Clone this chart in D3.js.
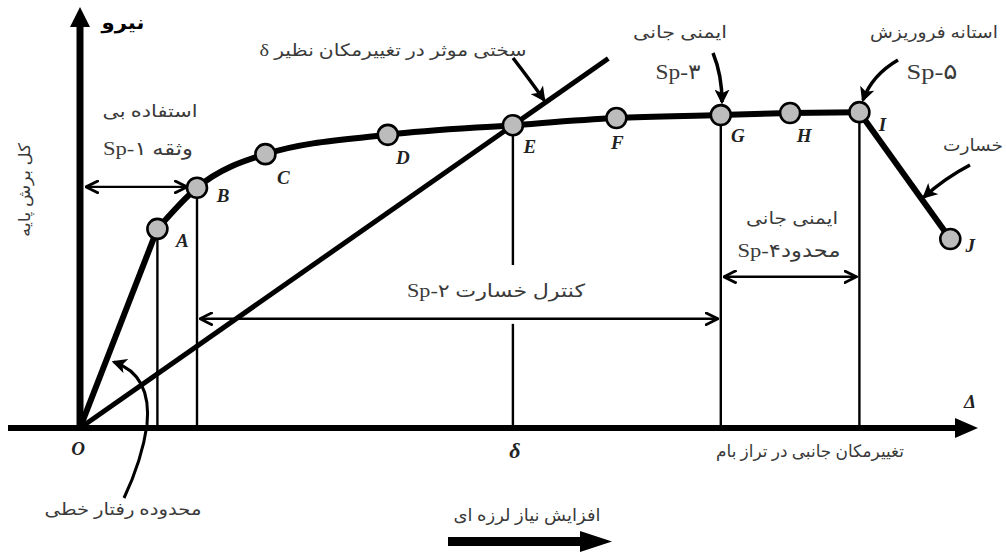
<!DOCTYPE html>
<html>
<head>
<meta charset="utf-8">
<script src="https://cdn.jsdelivr.net/npm/d3@7"></script>
<style>
  body { margin: 0; background: #fff; }
  .fa { font-family: "Liberation Serif", "DejaVu Sans", serif; fill: #3a3a3a; direction: rtl; }
  .lbl { font-family: "Liberation Serif", "DejaVu Serif", serif; font-style: italic; font-weight: bold; fill: #222; }
</style>
</head>
<body>
<svg width="1006" height="555"></svg>
<script>
// نقاط منحنی پوش آور (pushover) - تغییرمکان بام و برش پایه
const pointNames = ['O', 'A', 'B', 'C', 'D', 'E', 'F', 'G', 'H', 'I', 'J'];
const drift = [0, 8.6, 13, 20.6, 34.2, 48.1, 59.6, 71.2, 78.9, 86.6, 96.7];
const baseShear = [0, 47.4, 57.2, 65.2, 69.8, 72.1, 73.8, 74.5, 75, 75.2, 45];
const dropPoints = ['A', 'B', 'E', 'G', 'I'];   // خطوط قائم تا محور
const secantEnd = 58.7;                          // انتهای خط سختی موثر
// بازه های سطح عملکرد: از نقطه، تا نقطه، ارتفاع پیکان
const rangeFrom = ['O', 'B', 'G'];
const rangeTo = ['B', 'G', 'I'];
const rangeLevel = [57.4, 26, 36];

const svg = d3.select('svg');
const x = d3.scaleLinear().domain([0, 100]).range([80, 980]);
const y = d3.scaleLinear().domain([0, 100]).range([428, 8]);

const pts = pointNames.map((n, i) => ({ name: n, d: drift[i], v: baseShear[i] }));
const byName = Object.fromEntries(pts.map(p => [p.name, p]));

const defs = svg.append('defs');
defs.append('marker')
    .attr('id', 'open')
    .attr('viewBox', '0 -6 12 12')
    .attr('refX', 11).attr('refY', 0)
    .attr('markerUnits', 'userSpaceOnUse')
    .attr('markerWidth', 14).attr('markerHeight', 14)
    .attr('orient', 'auto-start-reverse')
  .append('path')
    .attr('d', 'M0,-5.5L11,0L0,5.5')
    .attr('fill', 'none').attr('stroke', '#000').attr('stroke-width', 2.4);
defs.append('marker')
    .attr('id', 'solid')
    .attr('viewBox', '0 -6 12 12')
    .attr('refX', 10).attr('refY', 0)
    .attr('markerUnits', 'userSpaceOnUse')
    .attr('markerWidth', 15).attr('markerHeight', 15)
    .attr('orient', 'auto')
  .append('path')
    .attr('d', 'M0,-6L12,0L0,6L3,0Z')
    .attr('fill', '#000');

// خطوط قائم نازک
const gapE = [24.8, 38.8];
dropPoints.forEach(n => {
  const p = byName[n];
  const segs = n === 'E' ? [[p.v, gapE[1]], [gapE[0], 0]] : [[p.v, 0]];
  segs.forEach(s => {
    svg.append('line')
        .attr('x1', x(p.d)).attr('x2', x(p.d))
        .attr('y1', y(s[0])).attr('y2', y(s[1]))
        .attr('stroke', '#000').attr('stroke-width', 2.4);
  });
});

// پیکانهای دوطرفه
rangeFrom.forEach((f, i) => {
  const x0 = x(byName[f].d) + (i === 0 ? 6 : 3);
  const x1 = x(byName[rangeTo[i]].d) - (i === 0 ? 10 : 3);
  svg.append('line')
      .attr('x1', x0).attr('x2', x1)
      .attr('y1', y(rangeLevel[i])).attr('y2', y(rangeLevel[i]))
      .attr('stroke', '#000').attr('stroke-width', 2.4)
      .attr('marker-start', 'url(#open)')
      .attr('marker-end', 'url(#open)');
});

// خط سختی موثر
const E = byName['E'];
svg.append('line')
    .attr('x1', x(0)).attr('y1', y(0))
    .attr('x2', x(secantEnd)).attr('y2', y(E.v / E.d * secantEnd))
    .attr('stroke', '#000').attr('stroke-width', 5);

// محورها
svg.append('line')
    .attr('x1', 8).attr('x2', 960).attr('y1', y(0)).attr('y2', y(0))
    .attr('stroke', '#000').attr('stroke-width', 6);
svg.append('path')
    .attr('d', `M978,${y(0)}L955,${y(0) - 10}L955,${y(0) + 10}Z`).attr('fill', '#000');
svg.append('line')
    .attr('x1', x(0)).attr('x2', x(0)).attr('y1', y(0) + 3).attr('y2', 22)
    .attr('stroke', '#000').attr('stroke-width', 7);
svg.append('path')
    .attr('d', `M${x(0)},7L${x(0) - 10},27L${x(0) + 10},27Z`).attr('fill', '#000');

// منحنی: O تا A خطی، A تا I نرم، I تا J خطی
const line = d3.line().x(p => x(p.d)).y(p => y(p.v));
svg.append('path')
    .attr('d', line(pts.slice(0, 2)))
    .attr('fill', 'none').attr('stroke', '#000').attr('stroke-width', 6);
svg.append('path')
    .attr('d', d3.line().x(p => x(p.d)).y(p => y(p.v)).curve(d3.curveMonotoneX)(pts.slice(1, 10)))
    .attr('fill', 'none').attr('stroke', '#000').attr('stroke-width', 6);
svg.append('path')
    .attr('d', line(pts.slice(9)))
    .attr('fill', 'none').attr('stroke', '#000').attr('stroke-width', 6);

svg.selectAll('circle.node')
  .data(pts.slice(1))
  .join('circle')
    .attr('class', 'node')
    .attr('cx', p => x(p.d)).attr('cy', p => y(p.v))
    .attr('r', 10)
    .attr('fill', '#bcbcbc').attr('stroke', '#000').attr('stroke-width', 2.6);

// برچسب نقاط
const labelOffset = {
  O: [-2, 20], A: [25, 11], B: [26, 8], C: [18, 23], D: [15, 23], E: [17, 21],
  F: [1, 24], G: [17, 20], H: [14, 22], I: [23, 12], J: [20, 6]
};
svg.selectAll('text.lbl')
  .data(pts)
  .join('text')
    .attr('class', 'lbl')
    .attr('x', p => x(p.d) + labelOffset[p.name][0])
    .attr('y', p => y(p.v) + labelOffset[p.name][1])
    .attr('dy', '0.35em')
    .attr('text-anchor', 'middle')
    .attr('font-size', 19)
    .text(p => p.name);

svg.append('text').attr('class', 'lbl').attr('x', 515).attr('y', 458)
    .attr('text-anchor', 'middle').attr('font-size', 22).text('δ');
svg.append('text').attr('class', 'lbl').attr('x', 970).attr('y', 408)
    .attr('text-anchor', 'middle').attr('font-size', 19).text('Δ');

// پیکانهای توضیحی
const callouts = [
  'M513,58 Q530,80 544,100',
  'M713,53 Q722,75 722,102',
  'M898,60 Q872,75 863,100',
  'M970,165 Q945,178 924,197'
];
callouts.forEach(d => {
  svg.append('path').attr('d', d)
      .attr('fill', 'none').attr('stroke', '#000').attr('stroke-width', 3.5)
      .attr('marker-end', 'url(#solid)');
});
svg.append('path')
    .attr('d', 'M124,498 Q142,460 147,425 Q152,375 114,362')
    .attr('fill', 'none').attr('stroke', '#000').attr('stroke-width', 3)
    .attr('marker-end', 'url(#solid)');

// پیکان پایین
svg.append('rect').attr('x', 448).attr('y', 537).attr('width', 135).attr('height', 9).attr('fill', '#000');
svg.append('path').attr('d', 'M612,541.5L580,531L580,552Z').attr('fill', '#000');

// متنها: متن، x مرکز، y خط پایه، اندازه، پهنا
const texts = [
  ['سختی موثر در تغییرمکان نظیر δ', 393, 56, 17, 267],
  ['ایمنی جانی', 680, 38, 17, 94],
  ['Sp-۳', 678, 79, 21, 45],
  ['استانه فروریزش', 934, 38, 17, 128],
  ['Sp-۵', 932, 79, 21, 51],
  ['خسارت', 973, 151, 17, 60],
  ['استفاده بی', 150, 117, 17, 95],
  ['وثقه Sp-۱', 148, 155, 19, 90],
  ['ایمنی جانی', 792, 224, 17, 92],
  ['محدودSp-۴', 789, 257, 19, 103],
  ['کنترل خسارت  Sp-۲', 496, 297, 18, 178],
  ['تغییرمکان جانبی در تراز بام', 810, 457, 17, 188],
  ['افزایش نیاز لرزه ای', 527, 521, 17, 147],
  ['محدوده رفتار خطی', 123, 515, 17, 157]
];
texts.forEach(t => {
  svg.append('text').attr('class', 'fa')
      .attr('x', t[1]).attr('y', t[2])
      .attr('text-anchor', 'middle')
      .attr('font-size', t[3])
      .attr('textLength', t[4])
      .attr('lengthAdjust', 'spacingAndGlyphs')
      .text(t[0]);
});
svg.append('text').attr('class', 'fa')
    .attr('x', 123).attr('y', 29)
    .attr('text-anchor', 'middle')
    .attr('font-size', 19).attr('font-weight', 'bold')
    .attr('textLength', 43).attr('lengthAdjust', 'spacingAndGlyphs')
    .style('fill', '#000')
    .text('نیرو');
svg.append('text').attr('class', 'fa')
    .attr('transform', 'translate(30,190) rotate(-90)')
    .attr('text-anchor', 'middle')
    .attr('font-size', 16)
    .attr('textLength', 94).attr('lengthAdjust', 'spacingAndGlyphs')
    .text('کل برش پایه');
</script>
</body>
</html>
